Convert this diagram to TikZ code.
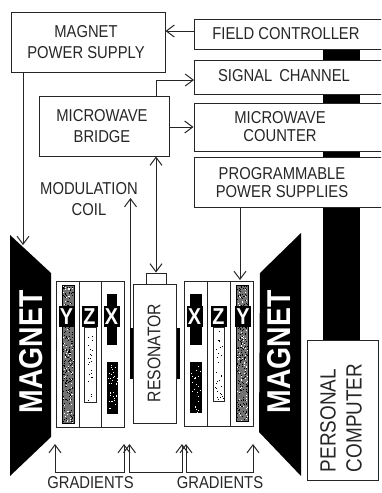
\documentclass[tikz,border=0pt]{standalone}
\usepackage{fontspec}
\setmainfont[FakeStretch=0.86]{Liberation Sans}
\usetikzlibrary{arrows.meta}

\tikzset{
  box/.style={draw, line width=1pt, minimum width=#1, inner sep=0pt},
  txt/.style={inner sep=0pt, align=center, font=\fontsize{17.2}{18}\selectfont},
  biglabel/.style={inner sep=0pt, rotate=90, text=white, font=\fontsize{33}{33}\selectfont\bfseries},
  axislabel/.style={fill=black, text=white, inner sep=0pt, minimum width=16pt, minimum height=21pt,
    font=\fontsize{23}{23}\selectfont\bfseries},
  barb/.tip={Straight Barb[length=8pt,width=12pt]},
  arr/.style={-barb, line width=1pt},
  dblarr/.style={barb-barb, line width=1pt}
}

\begin{document}
\begin{tikzpicture}[x=1pt, y=-1pt, color=black!85]
  \clip (0,0) rectangle (381,493);

  % black cable behind the rack
  \fill[black] (323,49) rectangle (360,60);
  \fill[black] (323,94) rectangle (360,103);
  \fill[black] (323,151) rectangle (360,157);
  \fill[black] (323,207) rectangle (360,340);

  % rack
  \node[box=154pt, minimum height=60pt] (magnetps) at (88,42) {};
  \node[box=196pt, minimum height=30pt] (fieldctl) at (292,34) {};
  \node[box=196pt, minimum height=34pt] (signal) at (292,77) {};
  \node[box=196pt, minimum height=48pt] (counter) at (292,127) {};
  \node[box=196pt, minimum height=50pt] (powers) at (292,182) {};
  \node[box=130pt, minimum height=60pt] (bridge) at (104,126) {};
  \node[box=71pt, minimum height=140pt] (pc) at (342.5,410) {};

  \node[txt, font=\fontsize{17.2}{21}\selectfont] (magnetpstxt) at (86,42) {MAGNET\\POWER SUPPLY};
  \node[txt] (fieldtxt) at (286,34) {FIELD CONTROLLER};
  \node[txt] (signaltxt) at (284,76) {SIGNAL\, CHANNEL};
  \node[txt] (countertxt) at (280,127) {MICROWAVE\\COUNTER};
  \node[txt] (powerstxt) at (282,183) {PROGRAMMABLE\\POWER SUPPLIES};
  \node[txt, font=\fontsize{17.2}{21}\selectfont] (bridgetxt) at (102,126) {MICROWAVE\\BRIDGE};
  \node[txt, font=\fontsize{17.2}{21}\selectfont] (modtxt) at (89,199) {MODULATION\\COIL};
  \node[txt, rotate=90, align=left, font=\fontsize{22}{26}\selectfont] (pctxt) at (341,418) {PERSONAL\\COMPUTER};

  % magnets
  \fill[black] (10,235) -- (51,273) -- (51,437) -- (10,476) -- cycle;
  \fill[black] (301,233) -- (260,273) -- (259,432) -- (301,476) -- cycle;
  \node[biglabel] (magnetl) at (31,352) {MAGNET};
  \node[biglabel] (magnetr) at (279,352) {MAGNET};

  % resonator and coil
  \fill[black] (130,328) rectangle (180,379);
  \node[box=43pt, minimum height=139pt, fill=white] (resonator) at (155,353.5) {};
  \node[txt, rotate=90, font=\fontsize{18.3}{18}\selectfont] (resonatortxt) at (154,353) {RESONATOR};
  \node[box=20pt, minimum height=11pt] (cavity) at (156,278.5) {};

  % gradient stacks
  \draw[line width=1pt] (56,281) rectangle (124,427);
  \draw[line width=1pt] (79,281) -- (79,427);
  \draw[line width=1pt] (101,281) -- (101,427);
  \draw[line width=1pt] (184,281) rectangle (253,426);
  \draw[line width=1pt] (207,281) -- (207,426);
  \draw[line width=1pt] (230,281) -- (230,426);

  % coil strips
  \fill[black!55] (62,285) rectangle (74,423);
  \fill[black!55] (236,285) rectangle (248,421);
  \draw[black] (62,285) rectangle (74,423);
  \draw[black] (236,285) rectangle (248,421);
  \draw (84,327) rectangle (96,402);
  \draw (213,327) rectangle (224,401);
  \fill[black] (107,294) rectangle (117,345);
  \fill[black] (107,362) rectangle (118,414);
  \fill[black] (190,294) rectangle (202,345);
  \fill[black] (190,362) rectangle (202,413);

  % speckle on the strips
  \pgfmathsetseed{11}
  \foreach \xa/\xw/\ya/\yh/\tint/\n in {63/10/286/136/black/220, 63/10/286/136/white/90,
      237/10/286/134/black/220, 237/10/286/134/white/90,
      88/4/330/70/black/22, 215/8/330/69/black/30,
      108/9/364/48/white/34, 191/10/364/48/white/24}{
    \foreach \i in {1,...,\n}{
      \pgfmathsetmacro\px{\xa+rnd*\xw}
      \pgfmathsetmacro\py{\ya+rnd*\yh}
      \fill[\tint] (\px,\py) rectangle +(1,1);
    }
  }

  \foreach \nm/\xpos/\ch in {yl/66.5/Y, zl/89.5/Z, xl/111.5/X, xr/194.5/X, zr/218.5/Z, yr/243/Y}{
    \node[axislabel] (\nm) at (\xpos,316.5) {\ch};
  }

  % connectors
  \coordinate (fieldport) at (194,31);
  \coordinate (signalport) at (194,80);
  \coordinate (magnettop) at (23,245);
  \coordinate (stacktop) at (240,280);
  \coordinate (coilbar) at (130.5,328);
  \coordinate (coiltip) at (130.5,198);

  \draw[arr] (fieldport) -- (fieldport -| magnetps.east);
  \draw[arr] (bridge.north -| cavity.north) |- (signalport);
  \draw[arr] (bridge.east |- counter.west) -- (counter.west);
  \draw[arr] (magnetps.south -| magnettop) -- (magnettop);
  \draw[dblarr] (bridge.south -| cavity.north) -- (cavity.north);
  \draw[arr] (coilbar) -- (coiltip);
  \draw[arr] (powers.south -| stacktop) -- (stacktop);

  % gradient leads
  \coordinate (g1) at (55,444);
  \coordinate (g2) at (124,444);
  \coordinate (g3) at (129.5,444);
  \coordinate (g4) at (182,444);
  \coordinate (g5) at (186,444);
  \coordinate (g6) at (253,444);
  \coordinate (gbot) at (0,472);

  \draw[dblarr] (g1) |- (gbot -| g2) -- (g2);
  \draw[dblarr] (g3) |- (gbot -| g4) -- (g4);
  \draw[dblarr] (g5) |- (gbot -| g6) -- (g6);

  \node[txt] (gradl) at (90.5,483) {GRADIENTS};
  \node[txt] (gradr) at (220,483) {GRADIENTS};
\end{tikzpicture}
\end{document}
